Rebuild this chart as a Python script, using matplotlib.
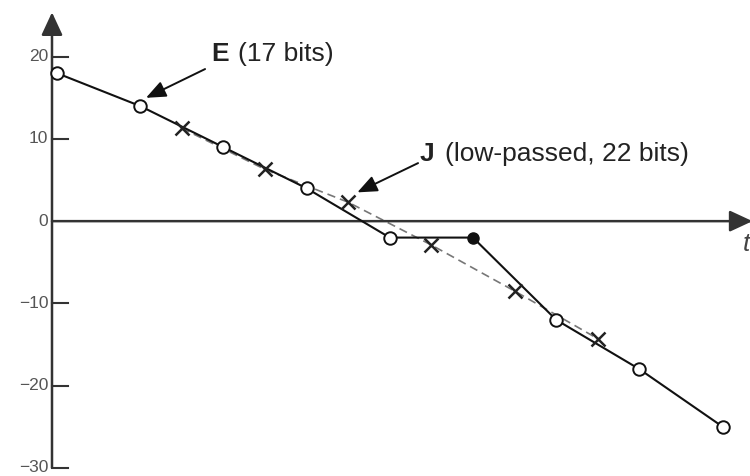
import numpy as np
import matplotlib.pyplot as plt

# E samples (open circles, solid line), one per time step
e_t = [0, 1, 2, 3, 4, 5, 6, 7, 8]
e_val = [18, 14, 9, 4, -2, -2, -12, -18, -25]
filled_idx = 5  # the sample drawn as a filled dot

# J samples (crosses, dashed line), in between E samples
j_t = [1.5, 2.5, 3.5, 4.5, 5.5, 6.5]
j_val = [11.3, 6.3, 2.3, -2.9, -8.5, -14.3]

y_ticks = [20, 10, 0, -10, -20, -30]
y_labels = ["20", "10", "0", "\u221210", "\u221220", "\u221230"]

plt.rcParams["font.family"] = ["Liberation Sans", "DejaVu Sans"]

fig = plt.figure(figsize=(7.5, 4.76), dpi=100)
ax = fig.add_axes([0, 0, 1, 1])
ax.set_xlim(-0.685, 8.33)
ax.set_ylim(-31.0, 26.9)
ax.axis("off")

x0 = -0.06  # position of the vertical axis

# axes with arrows
axis_arrow = dict(arrowstyle="-|>,head_length=1.4,head_width=0.65",
                  color="#333333", lw=1.8, shrinkA=0, shrinkB=0)
ax.annotate("", xy=(x0, 25.4), xytext=(x0, -30), arrowprops=axis_arrow,
            annotation_clip=False)
ax.annotate("", xy=(8.36, 0), xytext=(x0, 0), arrowprops=axis_arrow,
            annotation_clip=False)
ax.text(8.24, -2.8, "t", fontsize=19, style="italic", color="#444444",
        ha="left", va="center")

# y ticks
for v, lab in zip(y_ticks, y_labels):
    if v != 0:
        ax.plot([x0, x0 + 0.19], [v, v], color="#333333", lw=1.5)
    ax.text(-0.105, v, lab, fontsize=12.5, color="#555555",
            ha="right", va="center")

# J: dashed line with crosses
ax.plot(j_t, j_val, color="#777777", lw=1.2, ls=(0, (5, 3)), zorder=2)
ax.plot(j_t, j_val, ls="none", marker="x", ms=10, mew=1.8,
        color="#222222", zorder=4)

# E: solid line with open circles
ax.plot(e_t, e_val, color="#111111", lw=1.5, zorder=3)
open_t = [t for i, t in enumerate(e_t) if i != filled_idx]
open_v = [v for i, v in enumerate(e_val) if i != filled_idx]
ax.plot(open_t, open_v, ls="none", marker="o", ms=9, mfc="white",
        mec="#111111", mew=1.4, zorder=5)
ax.plot([e_t[filled_idx]], [e_val[filled_idx]], ls="none", marker="o",
        ms=8, color="#111111", zorder=5)

# annotations
arrow_kw = dict(arrowstyle="-|>,head_length=1.2,head_width=0.5",
                color="#111111", lw=1.4, shrinkA=0, shrinkB=0)
ax.annotate("", xy=(1.07, 15.0), xytext=(1.78, 18.5), arrowprops=arrow_kw)
ax.text(1.86, 20.3, "E", fontsize=19, fontweight="bold", color="#222222",
        ha="left", va="center")
ax.text(2.17, 20.3, "(17 bits)", fontsize=19, color="#222222",
        ha="left", va="center")

ax.annotate("", xy=(3.61, 3.5), xytext=(4.34, 7.06), arrowprops=arrow_kw)
ax.text(4.36, 8.15, "J", fontsize=19, fontweight="bold", color="#222222",
        ha="left", va="center")
ax.text(4.66, 8.15, "(low-passed, 22 bits)", fontsize=19, color="#222222",
        ha="left", va="center")

fig.savefig("out.png", dpi=100)
